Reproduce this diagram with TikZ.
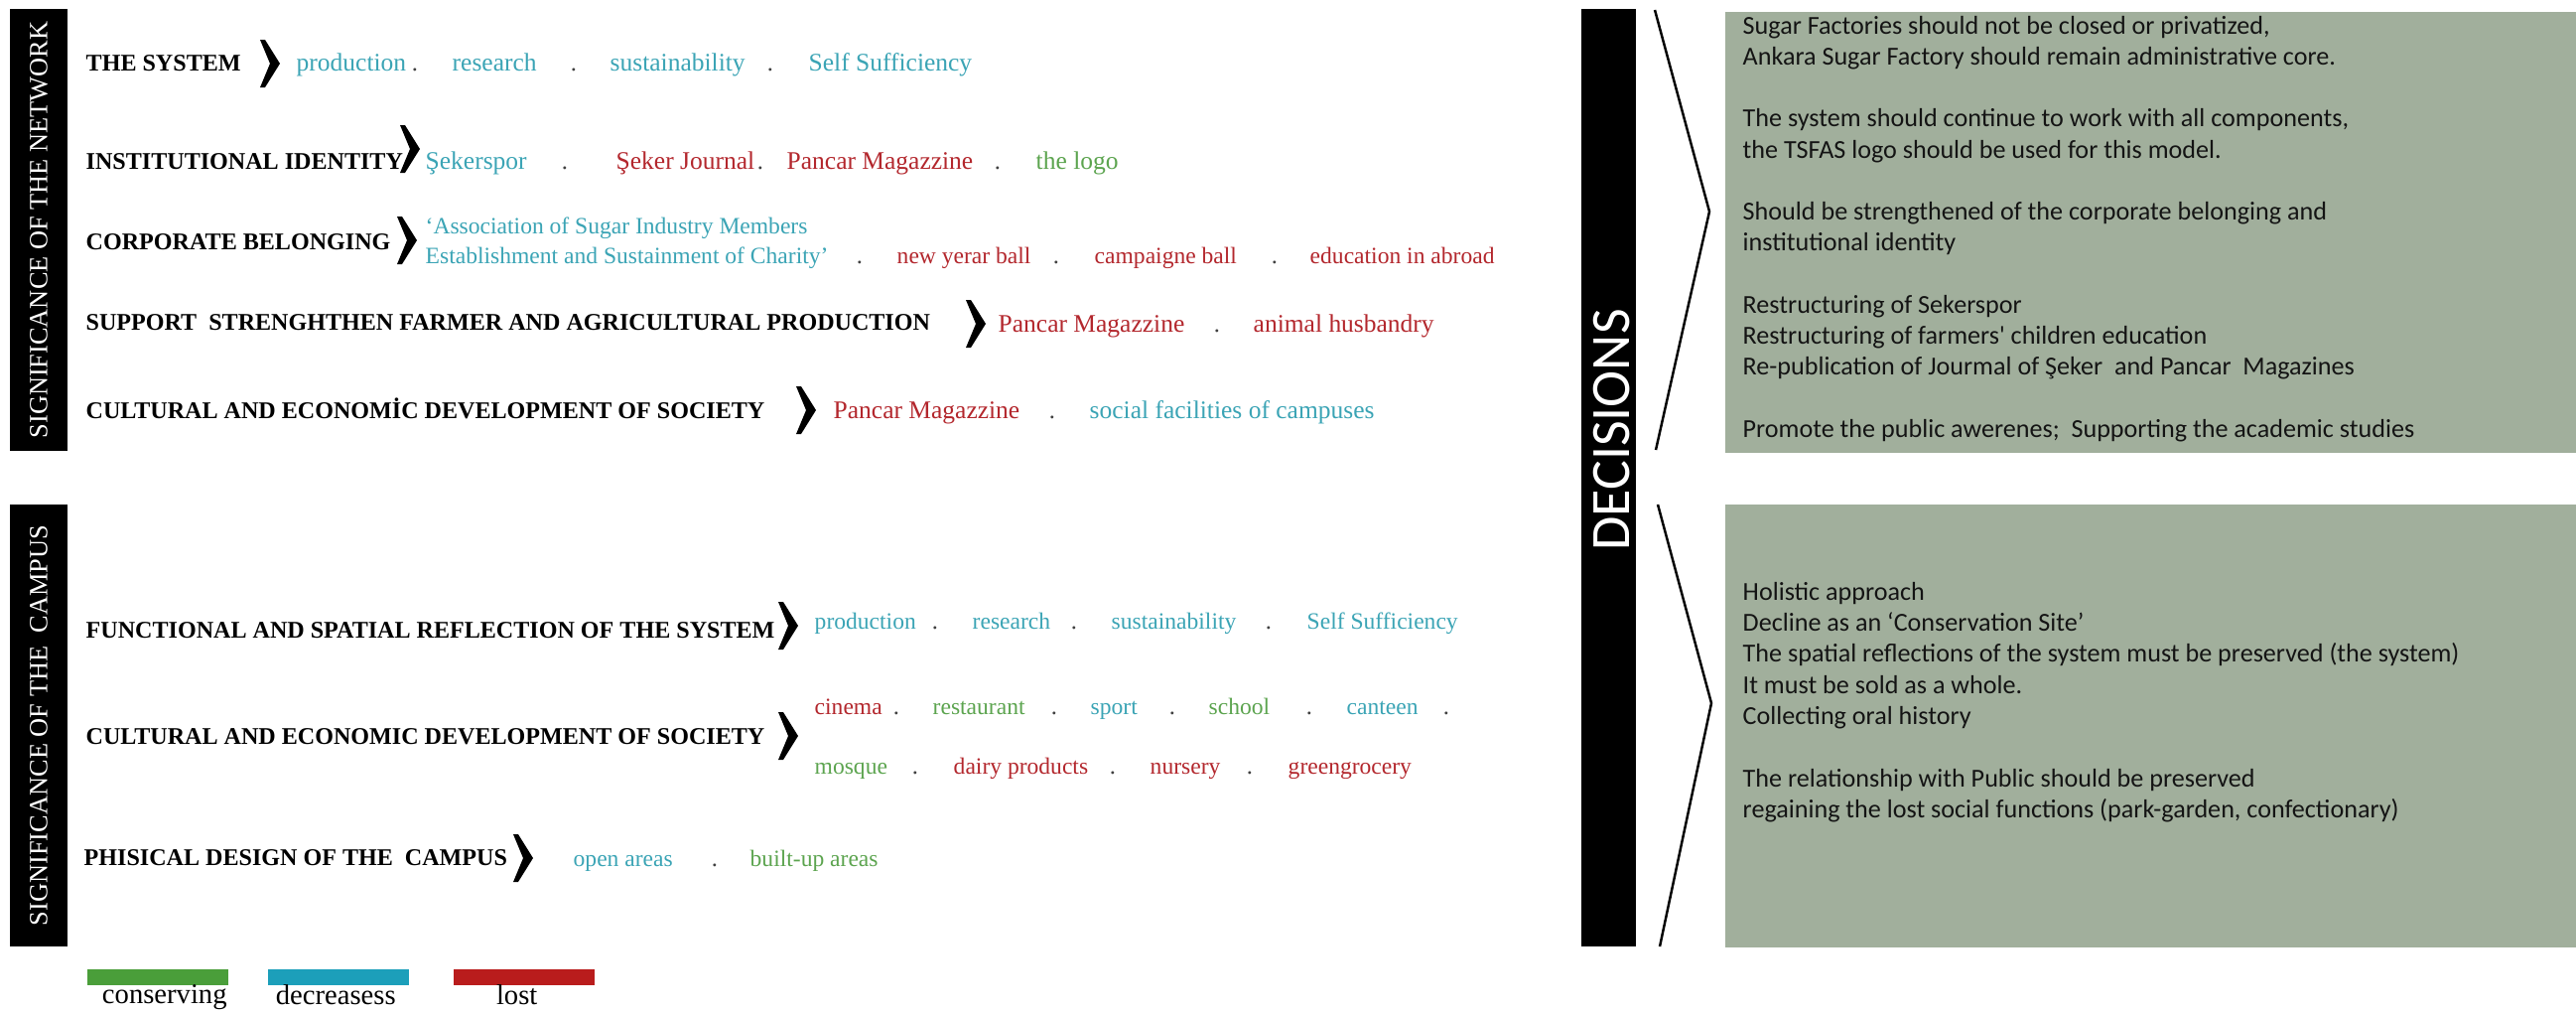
\documentclass[tikz,border=0pt]{standalone}
\usepackage{fontspec}
\setmainfont{Liberation Serif}
\newfontfamily\calib{Carlito}
\usetikzlibrary{positioning}

\definecolor{barGreen}{HTML}{4A9E3A}
\definecolor{barTeal}{HTML}{1C9FBA}
\definecolor{barRed}{HTML}{B91C1C}
\definecolor{txtGreen}{HTML}{5CA44F}
\definecolor{txtTeal}{HTML}{3BA4B5}
\definecolor{txtRed}{HTML}{B3272D}
\definecolor{boxGreen}{HTML}{A1AF9C}
\definecolor{boxInk}{HTML}{141414}

\tikzset{chevron/.pic={\fill (-10,-24) -- (-5,-24) -- (10,0) -- (-5,24) -- (-10,24) -- (0,0) -- cycle;}}

\begin{document}
\begin{tikzpicture}[x=0.01cm, y=-0.01cm,
    head/.style={anchor=base west, inner sep=0pt, font=\fontsize{6.85}{8}\selectfont\bfseries},
    item/.style={anchor=base west, inner sep=0pt, font=\fontsize{7.25}{8}\selectfont},
    camp/.style={font=\fontsize{6.7}{8}\selectfont},
    pnt/.style={anchor=base, inner sep=0pt, text=black!75, font=\fontsize{7}{8}\selectfont},
    cons/.style={text=txtGreen}, decr/.style={text=txtTeal}, gone/.style={text=txtRed},
    sidebar/.style={fill=black, text=white, rotate=90, minimum width=4.45cm, minimum height=0.58cm, inner sep=0pt, font=\fontsize{7.5}{8}\selectfont},
    notebox/.style={anchor=north west, fill=boxGreen, minimum width=8.58cm, inner sep=0pt},
    note/.style={anchor=base west, inner sep=0pt, text=boxInk, font=\calib\fontsize{7.43}{8.9}\selectfont},
    bracket/.style={line width=0.7pt},
    swatch/.style={anchor=north west, minimum width=1.42cm, minimum height=0.16cm, inner sep=0pt},
    legend/.style={inner sep=0pt, font=\fontsize{8.14}{9}\selectfont}]
    \useasboundingbox (0,0) rectangle (2595,1020);

    % Left side: significance bars
    \node[sidebar] (netBar) at (39,231.5) {SIGNIFICANCE OF THE NETWORK};
    \node[sidebar] (campBar) at (39,730.5) {SIGNIFICANCE OF THE\ \ CAMPUS};

    % The network
    \node[head] (hSys) at (86,71) {THE SYSTEM};
    \pic at (272,64) {chevron};
    \node[item, decr] (sysProd) at (298,71) {production};
    \node[pnt] (sysD1) at (418,71) {.};
    \node[item, decr] (sysRes) at (455,71) {research};
    \node[pnt] (sysD2) at (578,71) {.};
    \node[item, decr] (sysSus) at (614,71) {sustainability};
    \node[pnt] (sysD3) at (776,71) {.};
    \node[item, decr] (sysSelf) at (814,71) {Self Sufficiency};

    \node[head] (hInst) at (86,170) {INSTITUTIONAL IDENTITY};
    \pic at (413,150) {chevron};
    \node[item, decr] (idSpor) at (428,170) {Şekerspor};
    \node[pnt] (idD1) at (569,170) {.};
    \node[item, gone] (idJour) at (620,170) {Şeker Journal};
    \node[pnt] (idD2) at (766,170) {.};
    \node[item, gone] (idMag) at (792,170) {Pancar Magazzine};
    \node[pnt] (idD3) at (1005,170) {.};
    \node[item, cons] (idLogo) at (1043,170) {the logo};

    \node[head] (hCorp) at (86,251) {CORPORATE BELONGING};
    \pic at (410,242) {chevron};
    \node[item, camp, decr] (corpAssoc) at (428,235) {‘Association of Sugar Industry Members};
    \node[item, camp, decr] (corpChar) at (428,265) {Establishment and Sustainment of Charity’};
    \node[pnt] (corpD1) at (866,265) {.};
    \node[item, camp, gone] (corpNew) at (903,265) {new yerar ball};
    \node[pnt] (corpD2) at (1064,265) {.};
    \node[item, camp, gone] (corpBall) at (1102,265) {campaigne ball};
    \node[pnt] (corpD3) at (1284,265) {.};
    \node[item, camp, gone] (corpEdu) at (1319,265) {education in abroad};

    \node[head] (hAgr) at (86,332) {SUPPORT\ \ STRENGHTHEN FARMER AND AGRICULTURAL PRODUCTION};
    \pic at (983,326) {chevron};
    \node[item, gone] (agrMag) at (1005,334) {Pancar Magazzine};
    \node[pnt] (agrD1) at (1226,334) {.};
    \node[item, gone] (agrAnim) at (1262,334) {animal husbandry};

    \node[head] (hCult) at (86,421) {CULTURAL AND ECONOMİC DEVELOPMENT OF SOCIETY};
    \pic at (812,413) {chevron};
    \node[item, gone] (cultMag) at (839,421) {Pancar Magazzine};
    \node[pnt] (cultD1) at (1060,421) {.};
    \node[item, decr] (cultFac) at (1097,421) {social facilities of campuses};

    % The campus
    \node[head] (hFunc) at (86,642) {FUNCTIONAL AND SPATIAL REFLECTION OF THE SYSTEM};
    \pic at (794,630) {chevron};
    \node[item, camp, decr] (funProd) at (820,633) {production};
    \node[pnt] (funD1) at (942,633) {.};
    \node[item, camp, decr] (funRes) at (979,633) {research};
    \node[pnt] (funD2) at (1082,633) {.};
    \node[item, camp, decr] (funSus) at (1119,633) {sustainability};
    \node[pnt] (funD3) at (1278,633) {.};
    \node[item, camp, decr] (funSelf) at (1316,633) {Self Sufficiency};

    \node[head] (hSoc) at (86,749) {CULTURAL AND ECONOMIC DEVELOPMENT OF SOCIETY};
    \pic at (794,741) {chevron};
    \node[item, camp, gone] (socCin) at (820,719) {cinema};
    \node[pnt] (socD1) at (903,719) {.};
    \node[item, camp, cons] (socRest) at (939,719) {restaurant};
    \node[pnt] (socD2) at (1062,719) {.};
    \node[item, camp, decr] (socSport) at (1098,719) {sport};
    \node[pnt] (socD3) at (1181,719) {.};
    \node[item, camp, cons] (socSchool) at (1217,719) {school};
    \node[pnt] (socD4) at (1319,719) {.};
    \node[item, camp, decr] (socCant) at (1356,719) {canteen};
    \node[pnt] (socD5) at (1457,719) {.};
    \node[item, camp, cons] (socMosq) at (820,779) {mosque};
    \node[pnt] (socD6) at (922,779) {.};
    \node[item, camp, gone] (socDairy) at (960,779) {dairy products};
    \node[pnt] (socD7) at (1121,779) {.};
    \node[item, camp, gone] (socNurs) at (1158,779) {nursery};
    \node[pnt] (socD8) at (1259,779) {.};
    \node[item, camp, gone] (socGreen) at (1297,779) {greengrocery};

    \node[head] (hPhys) at (84,871) {PHISICAL DESIGN OF THE\ \ CAMPUS};
    \pic at (527,864) {chevron};
    \node[item, camp, decr] (phyOpen) at (577,872) {open areas};
    \node[pnt] (phyD1) at (720,872) {.};
    \node[item, camp, cons] (phyBuilt) at (755,872) {built-up areas};

    % Legend
    \node[swatch, fill=barGreen] (gSw) at (87,975) {};
    \node[swatch, fill=barTeal] (tSw) at (269,975) {};
    \node[swatch, fill=barRed] (rSw) at (456,975) {};
    \node[legend, below=-0.5pt of gSw, xshift=2pt] (gLab) {conserving};
    \node[legend, below=-0.5pt of tSw, xshift=-0.7pt] (tLab) {decreasess};
    \node[legend, below=-0.5pt of rSw, xshift=-2pt] (rLab) {lost};

    % Right side: decisions
    \node[fill=black, minimum width=0.55cm, minimum height=9.44cm, inner sep=0pt] (decBar) at (1620.5,481) {};
    \node[rotate=90, text=white, inner sep=0pt, font=\calib\fontsize{15.9}{16}\selectfont] (decText) at (1624,433) {DECISIONS};

    \coordinate (topA) at (1667,10);
    \coordinate (topTip) at (1722,213);
    \coordinate (topB) at (1668,453);
    \coordinate (lowA) at (1670,508);
    \coordinate (lowTip) at (1724,708);
    \coordinate (lowB) at (1672,953);
    \draw[bracket] (topA) -- (topTip) -- (topB);
    \draw[bracket] (lowA) -- (lowTip) -- (lowB);

    \node[notebox, minimum height=4.44cm] (topBox) at (1737,11) {};
    \node[notebox, minimum height=4.46cm] (lowBox) at (1737,507) {};

    \node[note] (top1) at (1755,34) {Sugar Factories should not be closed or privatized,};
    \node[note] (top2) at (1755,65.25) {Ankara Sugar Factory should remain administrative core.};
    \node[note] (top3) at (1755,127.75) {The system should continue to work with all components,};
    \node[note] (top4) at (1755,159) {the TSFAS logo should be used for this model.};
    \node[note] (top5) at (1755,221.5) {Should be strengthened of the corporate belonging and};
    \node[note] (top6) at (1755,252.75) {institutional identity};
    \node[note] (top7) at (1755,315.25) {Restructuring of Sekerspor};
    \node[note] (top8) at (1755,346.5) {Restructuring of farmers\textquotesingle\ children education};
    \node[note] (top9) at (1755,377.75) {Re-publication of Jourmal of Şeker\ \ and Pancar\ \ Magazines};
    \node[note] (top10) at (1755,440.25) {Promote the public awerenes;\ \ Supporting the academic studies};

    \node[note] (low1) at (1755,604) {Holistic approach};
    \node[note] (low2) at (1755,635.4) {Decline as an ‘Conservation Site’};
    \node[note] (low3) at (1755,666.8) {The spatial reflections of the system must be preserved (the system)};
    \node[note] (low4) at (1755,698.2) {It must be sold as a whole.};
    \node[note] (low5) at (1755,729.6) {Collecting oral history};
    \node[note] (low6) at (1755,792.4) {The relationship with Public should be preserved};
    \node[note] (low7) at (1755,823.8) {regaining the lost social functions (park-garden, confectionary)};
\end{tikzpicture}
\end{document}
